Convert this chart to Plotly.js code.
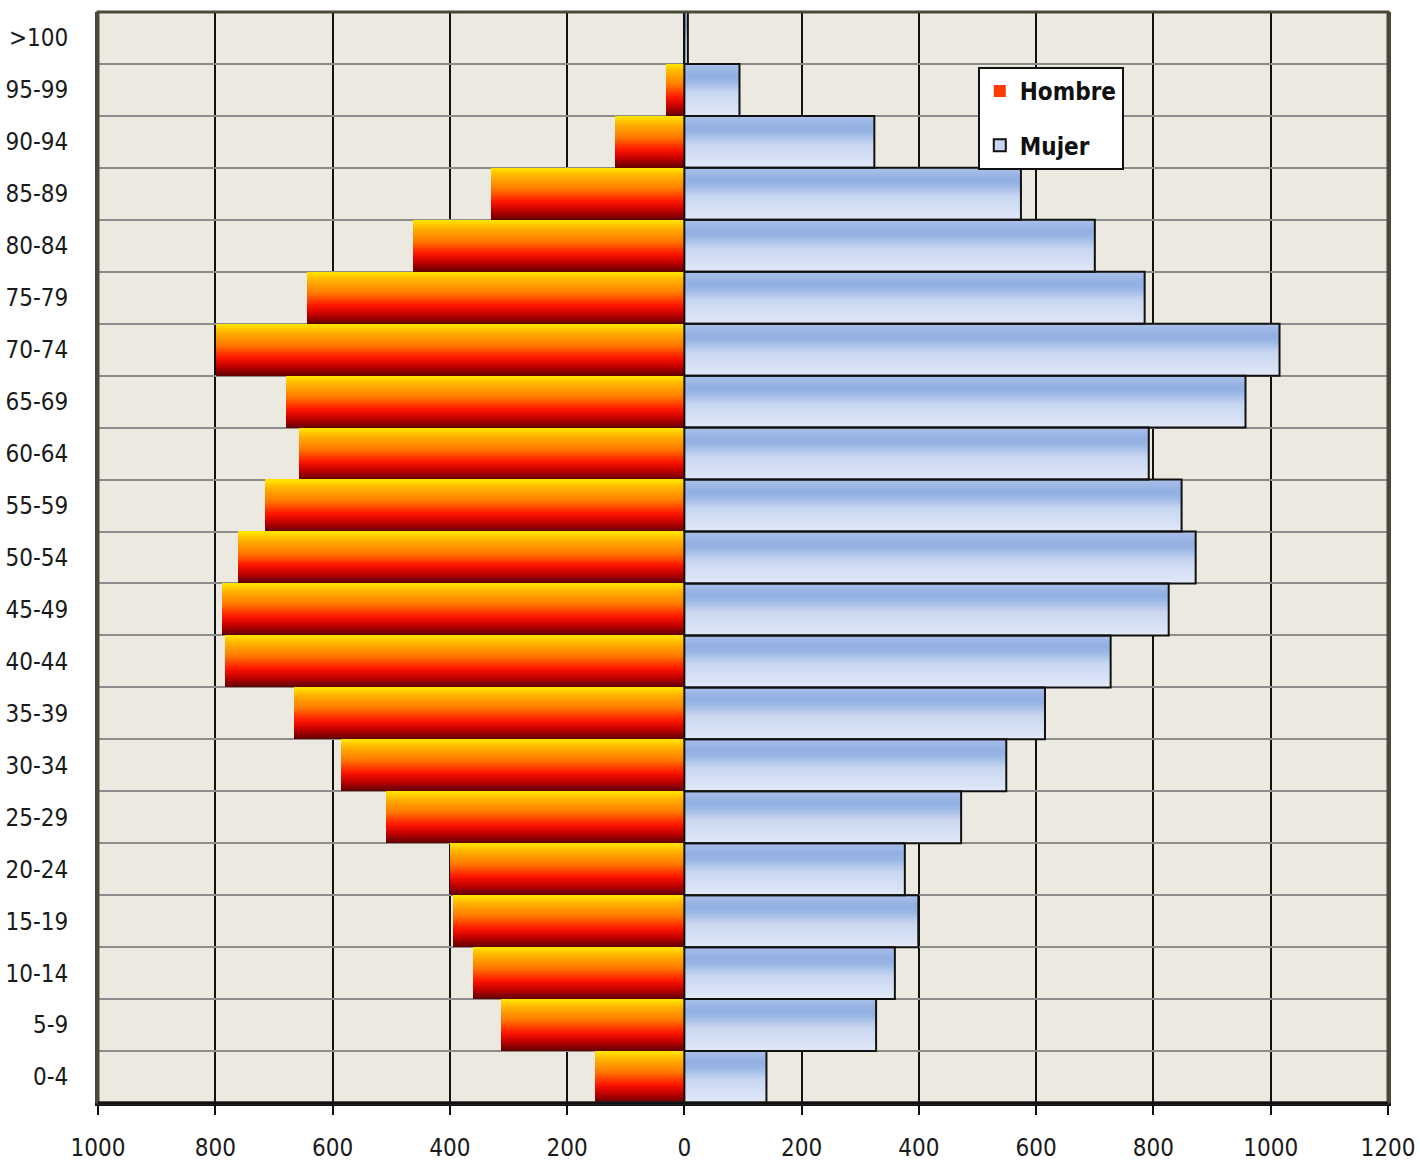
<!DOCTYPE html>
<html>
<head>
<meta charset="utf-8">
<script src="https://cdn.plot.ly/plotly-3.0.1.min.js"></script>
<style>html,body{margin:0;padding:0;background:#fff;}#chart{width:1420px;height:1163px;}</style>
</head>
<body>
<div id="chart"></div>
<script>
// Age groups, bottom to top
const ages = ["0-4","5-9","10-14","15-19","20-24","25-29","30-34","35-39","40-44","45-49","50-54","55-59","60-64","65-69","70-74","75-79","80-84","85-89","90-94","95-99",">100"];
const hombre = [153,312,361,394,399,509,586,666,784,789,761,716,658,680,799,644,463,330,118,31,1];
const mujer  = [140,327,359,399,376,472,549,615,727,826,872,848,792,957,1015,785,700,574,324,94,6];
const tickVals = [-1000,-800,-600,-400,-200,0,200,400,600,800,1000,1200];
const tickText = ["1000","800","600","400","200","0","200","400","600","800","1000","1200"];

function hex(c){return [parseInt(c.slice(1,3),16),parseInt(c.slice(3,5),16),parseInt(c.slice(5,7),16)];}
function grad(stops,t){
  for(let i=0;i<stops.length-1;i++){
    const [t0,c0]=stops[i],[t1,c1]=stops[i+1];
    if(t>=t0&&t<=t1){
      const f=(t-t0)/(t1-t0),a=hex(c0),b=hex(c1);
      return 'rgb('+a.map((v,k)=>Math.round(v+(b[k]-v)*f)).join(',')+')';
    }
  }
  return stops[stops.length-1][1];
}
const redStops=[[0,'#600000'],[0.18,'#C00000'],[0.35,'#FF1500'],[0.6,'#FF7A00'],[0.85,'#FFB400'],[1,'#FFE800']];
const blueStops=[[0,'#E2E9F7'],[0.45,'#C8D6F0'],[0.68,'#98B5E4'],[0.78,'#91AFE2'],[1,'#A9BFE8']];

const N=26;
const traces=[];
const hNeg=hombre.map(v=>-v);
for(let i=0;i<N;i++){
  const t=(i+0.5)/N;
  traces.push({type:'bar',orientation:'h',y:ages,x:hNeg,width:1/N+0.002,offset:-0.5+i/N,
    marker:{color:grad(redStops,t),line:{width:0}},showlegend:false,hoverinfo:'skip'});
  traces.push({type:'bar',orientation:'h',y:ages,x:mujer,width:1/N+0.002,offset:-0.5+i/N,
    marker:{color:grad(blueStops,t),line:{width:0}},showlegend:false,hoverinfo:'skip'});
}
// outline for Mujer
traces.push({type:'bar',orientation:'h',y:ages,x:mujer,width:1,offset:-0.5,name:'Mujer',
  marker:{color:'rgba(0,0,0,0)',line:{color:'#111',width:2}},showlegend:false,hoverinfo:'skip'});
// legend entries
traces.push({type:'bar',orientation:'h',y:[null],x:[null],name:'Hombre',legendgroup:'h',legendrank:1,
  marker:{color:'#FF3A00'},showlegend:true});
traces.push({type:'bar',orientation:'h',y:[null],x:[null],name:'Mujer',legendgroup:'m',legendrank:2,
  marker:{color:'#C8D6F0',line:{color:'#111',width:2}},showlegend:true});

const font="'DejaVu Sans Condensed','Liberation Sans Narrow','Arial Narrow','Liberation Sans',Arial,sans-serif";
const layout={
  width:1420,height:1163,
  margin:{l:98,r:32,t:12,b:60},
  paper_bgcolor:'#ffffff',plot_bgcolor:'#ECEAE0',
  barmode:'overlay',bargap:0,
  font:{family:font,size:24,color:'#1a1a1a'},
  xaxis:{range:[-1000,1200],tickvals:tickVals,ticktext:tickText,
    showgrid:true,gridcolor:'#111',gridwidth:2,
    zeroline:true,zerolinecolor:'#111',zerolinewidth:2,
    showline:true,linecolor:'#111',linewidth:3,mirror:false,
    ticks:'outside',ticklen:9,tickwidth:2,tickcolor:'#111',ticklabelstandoff:12,
    tickfont:{family:font,size:24}},
  yaxis:{type:'category',categoryorder:'array',categoryarray:ages,
    tickson:'boundaries',showgrid:true,gridcolor:'#8c8c8c',gridwidth:2,
    showline:true,linecolor:'#4a4838',linewidth:3,mirror:true,
    ticks:'',ticklabelstandoff:22,tickfont:{family:font,size:24},range:[-0.5,20.5]},
  legend:{x:0.682,y:0.9496,xanchor:'left',yanchor:'top',bgcolor:'#ffffff',
    bordercolor:'#111',borderwidth:2,font:{family:font,size:24,color:'#111',weight:'bold'},
    traceorder:'grouped',itemwidth:30,tracegroupgap:20},
  shapes:[{type:'rect',xref:'paper',yref:'paper',x0:0,x1:1,y0:0,y1:1,line:{color:'#4a4838',width:3}},
          {type:'line',xref:'paper',yref:'paper',x0:0,x1:1,y0:0,y1:0,line:{color:'#111',width:3}}]
};
Plotly.newPlot('chart',traces,layout,{staticPlot:true});
</script>
</body>
</html>
